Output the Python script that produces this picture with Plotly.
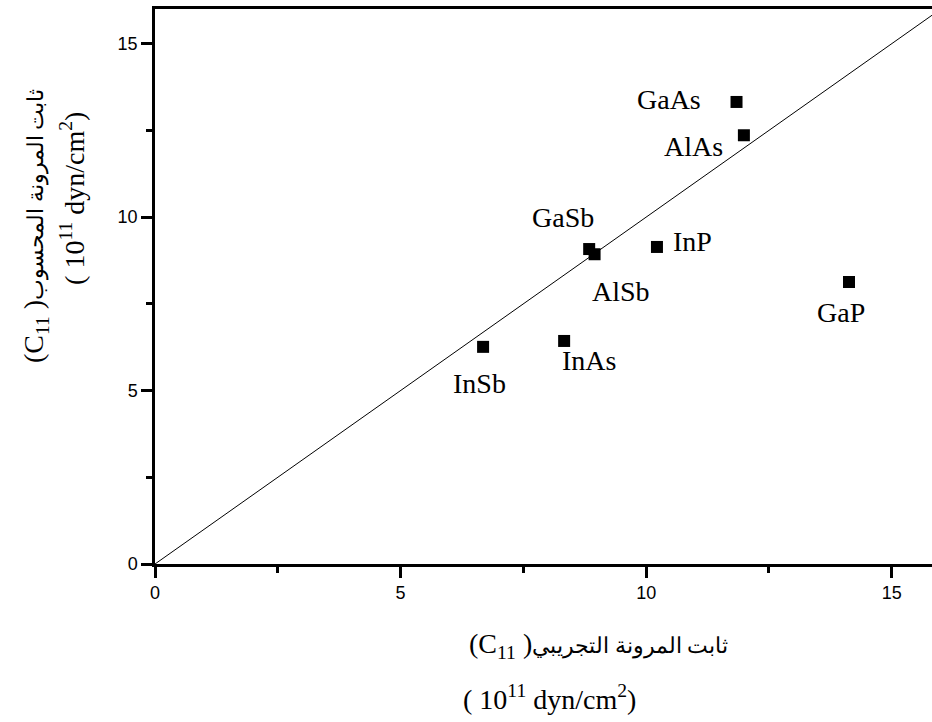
import plotly.graph_objects as go

# Elastic constant C11 (10^11 dyn/cm^2): experimental vs calculated
materials = ["GaAs", "AlAs", "GaSb", "AlSb", "InP", "InSb", "InAs", "GaP"]
c11_experimental = [11.84, 11.99, 8.84, 8.95, 10.22, 6.68, 8.33, 14.13]
c11_calculated = [13.32, 12.36, 9.08, 8.93, 9.14, 6.26, 6.43, 8.13]

tick_values = [0, 5, 10, 15]
tick_labels = ["0", "5", "10", "15"]

# pixel offsets of each material label from its marker
LABEL_OFFSETS = {
    "GaAs": (-68, 2),
    "AlAs": (-50, -11),
    "GaSb": (-26, 32),
    "AlSb": (26, -37),
    "InP": (36, 5),
    "InSb": (-4, -37),
    "InAs": (25, -20),
    "GaP": (-8, -31),
}

SERIF = "Liberation Serif"
SANS = "Liberation Sans"

fig = go.Figure()

# reference line y = x
fig.add_trace(go.Scatter(
    x=[0, 16], y=[0, 16], mode="lines",
    line=dict(color="black", width=1),
    hoverinfo="skip", showlegend=False,
))

fig.add_trace(go.Scatter(
    x=c11_experimental, y=c11_calculated, mode="markers",
    marker=dict(symbol="square", size=12, color="black", line=dict(width=0)),
    text=materials, showlegend=False,
))

annotations = []
for name, xv, yv in zip(materials, c11_experimental, c11_calculated):
    dx, dy = LABEL_OFFSETS[name]
    annotations.append(dict(
        x=xv, y=yv, xref="x", yref="y", text=name, showarrow=False,
        xanchor="center", yanchor="middle", xshift=dx, yshift=dy,
        font=dict(family=SERIF, size=28, color="black"),
    ))


def arabic(s):
    return '<span style="font-size:22px">' + s + "</span>"


x_title_1 = "(C<sub>11</sub> )" + arabic("ثابت المرونة التجريبي")
y_title_1 = "(C<sub>11</sub> )" + arabic("ثابت المرونة المحسوب")
unit_title = "( 10<sup>11</sup> dyn/cm<sup>2</sup>)"

title_font = dict(family=SERIF, size=28, color="black")
annotations += [
    dict(x=0.740, y=-0.146, xref="paper", yref="paper", text=x_title_1,
         showarrow=False, xanchor="right", yanchor="middle", font=title_font),
    dict(x=0.508, y=-0.240, xref="paper", yref="paper", text=unit_title,
         showarrow=False, xanchor="center", yanchor="middle", font=title_font),
    dict(x=-0.1544, y=0.609, xref="paper", yref="paper", text=y_title_1,
         showarrow=False, xanchor="center", yanchor="middle", textangle=-90,
         font=title_font),
    dict(x=-0.106, y=0.659, xref="paper", yref="paper", text=unit_title,
         showarrow=False, xanchor="center", yanchor="middle", textangle=-90,
         font=title_font),
]

axis_common = dict(
    showline=True, linecolor="black", linewidth=2.5,
    showgrid=False, zeroline=False,
    ticks="outside", ticklen=11, tickwidth=2.5, tickcolor="black",
    tickvals=tick_values, ticktext=tick_labels,
    tickfont=dict(family=SANS, size=18, color="black"),
    minor=dict(tickvals=[2.5, 7.5, 12.5], ticks="outside", ticklen=6,
               tickwidth=2.5, tickcolor="black"),
)

fig.update_layout(
    width=932, height=722,
    margin=dict(l=155, r=0, t=9, b=158),
    plot_bgcolor="white", paper_bgcolor="white",
    xaxis=dict(range=[0, 15.82], mirror=True, **axis_common),
    yaxis=dict(range=[0, 16], mirror=False, **axis_common),
    annotations=annotations,
)

fig.write_html("out.html")
